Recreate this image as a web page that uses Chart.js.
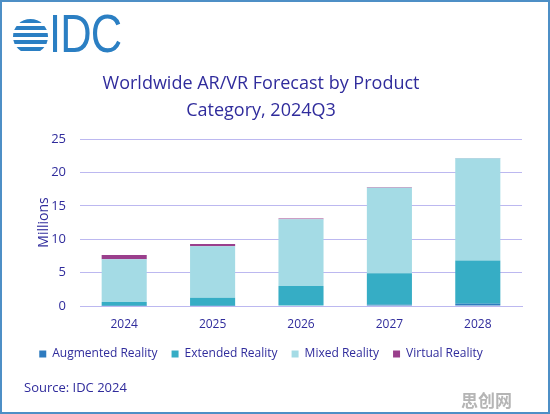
<!DOCTYPE html>
<html>
<head>
<meta charset="utf-8">
<script src="https://cdn.jsdelivr.net/npm/chart.js@4"></script>
<style>
  html, body { margin: 0; padding: 0; background: #fff; }
  #frame {
    position: relative; width: 546px; height: 410px;
    border: 2px solid #4d8fc6; overflow: hidden; background: #fff;
  }
  #chart-wrap { position: absolute; left: -2px; top: -2px; width: 550px; height: 414px; }
  #logo-ball {
    position: absolute; left: 11px; top: 17px; width: 35px; height: 35px; border-radius: 50%;
    background: repeating-linear-gradient(to bottom, #2b7fc3 0 4px, #fff 4px 7px);
  }
  #logo-text {
    position: absolute; left: 47px; top: 1px; font: 53px "Liberation Sans", Arial, sans-serif;
    color: #2b7fc3; transform: scaleX(0.82); transform-origin: left top; letter-spacing: -1px;
  }
  #source {
    position: absolute; left: 22px; top: 376px; font: 13px "Open Sans", sans-serif; color: #302c9c;
  }
  #mark {
    position: absolute; left: 459px; top: 385px; font: bold 17px "Noto Sans CJK SC", sans-serif;
    color: #b5b5b5;
  }
</style>
</head>
<body>
<div id="frame">
  <div id="chart-wrap"><canvas id="arvr-chart" width="550" height="414"></canvas></div>
  <div id="logo-ball"></div>
  <div id="logo-text">IDC</div>
  <div id="source">Source: IDC 2024</div>
  <div id="mark">思创网</div>
</div>
<script>
// Data (millions of units)
const years = ['2024', '2025', '2026', '2027', '2028'];
const augmented = [0.05, 0.05, 0.08, 0.2, 0.35];
const extended = [0.55, 1.2, 2.9, 4.7, 6.45];
const mixed = [6.4, 7.7, 10.0, 12.8, 15.3];
const virtual = [0.65, 0.35, 0.12, 0.08, 0.05];

const textColor = '#302c9c';
const gridColor = '#bcb8f0';

const ctx = document.getElementById('arvr-chart').getContext('2d');
const chart = new Chart(ctx, {
  type: 'bar',
  data: {
    labels: years,
    datasets: [
      { label: 'Augmented Reality', data: augmented, backgroundColor: '#2e7bbf' },
      { label: 'Extended Reality', data: extended, backgroundColor: '#36adc5' },
      { label: 'Mixed Reality', data: mixed, backgroundColor: '#a4dbe5' },
      { label: 'Virtual Reality', data: virtual, backgroundColor: '#9a3f8c' }
    ]
  },
  options: {
    responsive: false,
    animation: false,
    layout: { padding: { left: 0, right: 28, top: 0, bottom: 44 } },
    datasets: { bar: { barPercentage: 0.51, categoryPercentage: 1 } },
    plugins: {
      title: {
        display: true,
        text: ['Worldwide AR/VR Forecast by Product', 'Category, 2024Q3'],
        color: textColor,
        font: { family: 'Open Sans', size: 18, weight: 'normal', lineHeight: 1.5 },
        padding: { top: 70, bottom: 15 }
      },
      legend: {
        position: 'bottom',
        labels: {
          color: textColor,
          boxWidth: 7,
          boxHeight: 7,
          padding: 14,
          font: { family: 'Open Sans', size: 12 }
        }
      },
      tooltip: { enabled: false }
    },
    scales: {
      x: {
        stacked: true,
        grid: { display: false, drawTicks: false },
        border: { color: gridColor },
        ticks: { color: textColor, padding: 11, font: { family: 'Open Sans', size: 12 } },
        afterFit: scale => { scale.height = 28; }
      },
      y: {
        stacked: true,
        min: 0,
        max: 25,
        ticks: { stepSize: 5, color: textColor, padding: 14, font: { family: 'Open Sans', size: 13 } },
        grid: { color: gridColor, drawTicks: false },
        border: { display: false },
        title: {
          display: true,
          text: 'Millions',
          color: textColor,
          font: { family: 'Open Sans', size: 14 },
          padding: { top: 36, bottom: 0 }
        },
        afterFit: scale => { scale.width = 80; }
      }
    }
  }
});
</script>
</body>
</html>
